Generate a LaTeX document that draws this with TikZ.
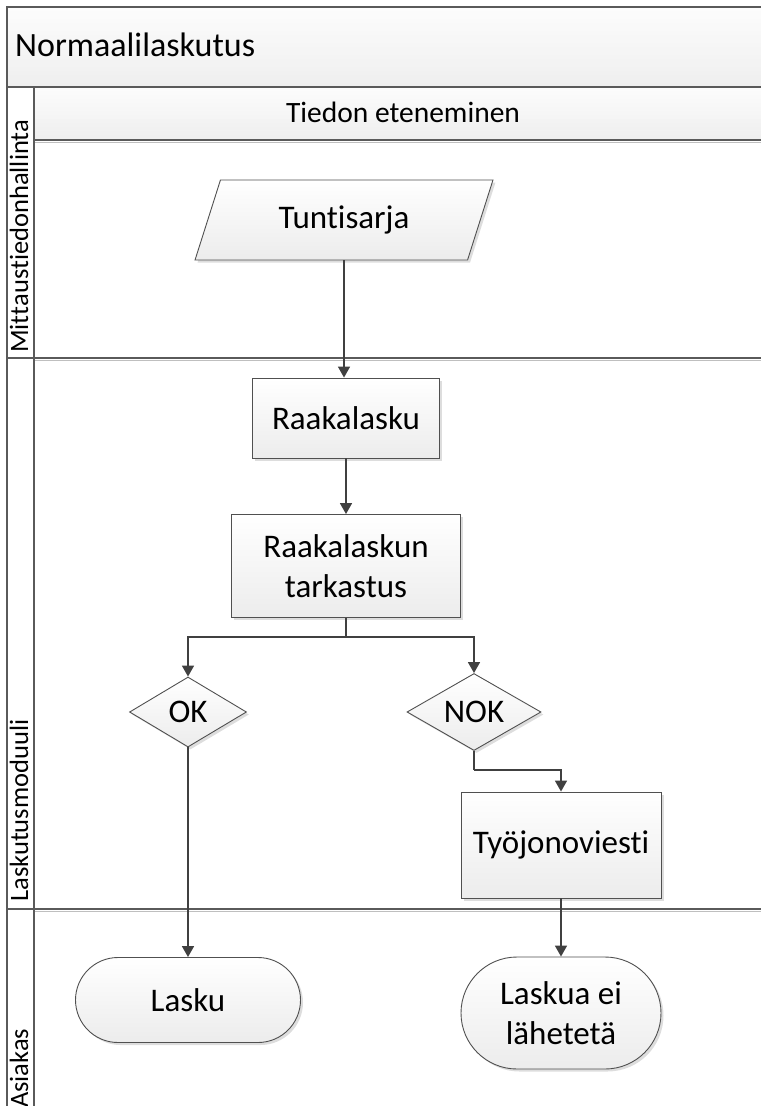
\documentclass[tikz,border=0pt]{standalone}
\usepackage{fontspec}
\setmainfont{Carlito}[RawFeature={-liga;-clig;-calt;-dlig}]
\usetikzlibrary{arrows.meta,shapes.geometric,shadows}

\definecolor{edge}{HTML}{505050}
\definecolor{wire}{HTML}{404040}
\definecolor{frame}{HTML}{5A5A5A}
\definecolor{shade}{HTML}{ECECEC}
\definecolor{bandtop}{HTML}{FCFCFC}
\definecolor{bandbot}{HTML}{EFEFEF}

% keeps t and i apart so that no ligature forms
\newcommand{\sep}{\kern0pt }

\tikzset{
  box/.style={draw=edge, line width=0.9pt, top color=white, bottom color=shade,
    drop shadow={shadow xshift=2.5pt, shadow yshift=-2.5pt, fill=black!22, opacity=0.6},
    font=\fontsize{33}{40}\selectfont, align=center, inner sep=0pt},
  procbox/.style={box, rectangle},
  datashape/.style={box, trapezium, trapezium left angle=64.6, trapezium right angle=115.4,
    trapezium stretches=true},
  choice/.style={box, diamond},
  endshape/.style={box, rectangle},
  flow/.style={draw=wire, line width=1.6pt, -{Triangle[length=11pt,width=12pt]}},
  seg/.style={draw=wire, line width=1.6pt},
  divider/.style={draw=frame, line width=1.5pt},
  lanelabel/.style={rotate=90, anchor=base west, inner sep=0pt, font=\fontsize{26.5}{30}\selectfont},
}

\begin{document}
\begin{tikzpicture}[x=1pt, y=-1pt]
\useasboundingbox (0,0) rectangle (761,1106);

% pool title band and phase header band, filled in thin horizontal strips
\foreach \i in {0,...,19} {
  \pgfmathsetmacro\mix{100*\i/19}
  \fill[bandbot!\mix!bandtop] (7,{7+4*\i}) rectangle (761,{11.2+4*\i});
}
\foreach \i in {0,...,12} {
  \pgfmathsetmacro\mix{100*\i/12}
  \fill[bandbot!\mix!bandtop] (34,{87+4*\i}) rectangle (761,{91.3+4*\i});
}
\draw[divider, line width=2pt] (7,7) -- (761,7);
\draw[divider, line width=2pt] (7,87) -- (761,87);
\draw[divider] (34,140) -- (761,140);
\draw[black!25, line width=1pt] (34,142) -- (761,142);

% lane separators and the label column
\draw[divider] (7,358) -- (761,358);
\draw[black!25, line width=1pt] (34,360) -- (761,360);
\draw[divider] (7,909) -- (761,909);
\draw[black!25, line width=1pt] (34,911) -- (761,911);
\draw[divider, line width=2pt] (7,6) -- (7,1106);
\draw[divider] (34,87) -- (34,1106);

% titles
\node[anchor=base west, inner sep=0pt, font=\fontsize{34}{40}\selectfont] (pool) at (15,56) {Normaalilaskutus};
\node[anchor=base, inner sep=0pt, font=\fontsize{29.5}{35}\selectfont] (phase) at (403,122) {Tiedon eteneminen};

% lane names
\begin{scope}
\clip (0,0) rectangle (761,1106);
\node[lanelabel] (lane1) at (28,353) {Mit\sep t\sep aust\sep iedonhallinta};
\node[lanelabel] (lane2) at (28,902) {Laskutusmoduuli};
\node[lanelabel] (lane3) at (28,1108) {Asiakas};
\end{scope}

% flow shapes
\node[datashape, minimum width=298pt, minimum height=80pt] (tun) at (344,220) {Tunt\sep isarja};
\node[procbox, minimum width=187pt, minimum height=80pt] (raak) at (346,418) {Raakalasku};
\node[procbox, minimum width=229pt, minimum height=103pt] (tark) at (346,566) {Raakalaskun\\tarkastus};
\node[choice, minimum width=117pt, minimum height=70pt, aspect=1.67] (ok) at (188,712) {OK};
\node[choice, minimum width=134pt, minimum height=77pt, aspect=1.74] (nok) at (474,712) {NOK};
\node[procbox, minimum width=200pt, minimum height=106pt] (tyo) at (561,845) {Työjonoviest\sep i};
\node[endshape, minimum width=225pt, minimum height=85pt, rounded corners=42.5pt] (lasku) at (188,1000) {Lasku};
\node[endshape, minimum width=200pt, minimum height=112pt, rounded corners=56pt] (eilah) at (561,1013) {Laskua ei\\lähetetä};

% connectors
\coordinate (split) at (346,637);
\coordinate (nokturn) at (474,770);
\draw[flow] (tun.south) -- (tun.south |- raak.north);
\draw[flow] (raak.south) -- (tark.north);
\draw[seg] (tark.south) -- (split);
\draw[flow] (split) -| (ok.north);
\draw[flow] (split) -| (nok.north);
\draw[flow] (ok.south) -- (lasku.north);
\draw[seg] (nok.south) -- (nokturn);
\draw[flow] (nokturn) -| (tyo.north);
\draw[flow] (tyo.south) -- (eilah.north);
\end{tikzpicture}
\end{document}
